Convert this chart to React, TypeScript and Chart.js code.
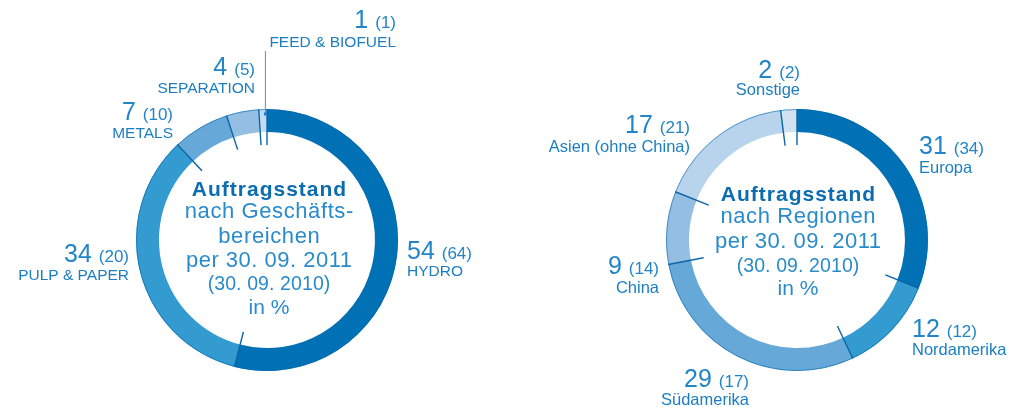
import React, { useEffect, useRef } from 'react';
import { Chart, registerables } from 'chart.js';

Chart.register(...registerables);

const W = 1010;
const H = 407;

// ---------- data ----------
const businessCategories = ['HYDRO', 'PULP & PAPER', 'METALS', 'SEPARATION', 'FEED & BIOFUEL'];
const businessValues2011 = [54, 34, 7, 4, 1];
const businessValues2010 = [64, 20, 10, 5, 1];
const businessCenterLines = ['Auftragsstand', 'nach Geschäfts-', 'bereichen', 'per 30. 09. 2011', '(30. 09. 2010)', 'in %'];

const regionCategories = ['Europa', 'Nordamerika', 'Südamerika', 'China', 'Asien (ohne China)', 'Sonstige'];
const regionValues2011 = [31, 12, 29, 9, 17, 2];
const regionValues2010 = [34, 12, 17, 14, 21, 2];
const regionCenterLines = ['Auftragsstand', 'nach Regionen', 'per 30. 09. 2011', '(30. 09. 2010)', 'in %'];

// ---------- styles / layout ----------
const businessColors = ['#0071b5', '#349bd0', '#66a8d7', '#95bfe2', '#c5dbf0'];
const regionColors = ['#0071b5', '#349bd0', '#66a8d7', '#95bfe2', '#b8d4ec', '#d0e2f2'];

const FONT = '"Liberation Sans", Arial, Helvetica, sans-serif';
const NUM_COLOR = '#2384c8';
const LABEL_COLOR = '#1b7ec3';
const CENTER_BOLD = '#0b6cb1';
const CENTER_COLOR = '#2a8bcb';
const EDGE_COLOR = '#0b66a8';

type LabelPos = { x: number; nb: number; lb: number; align: 'left' | 'right' };

const businessLabelPos: LabelPos[] = [
  { x: 407, nb: 259, lb: 276, align: 'left' },
  { x: 129, nb: 262, lb: 280, align: 'right' },
  { x: 173, nb: 120, lb: 138, align: 'right' },
  { x: 255, nb: 75, lb: 93, align: 'right' },
  { x: 396, nb: 28, lb: 47, align: 'right' },
];
const regionLabelPos: LabelPos[] = [
  { x: 919, nb: 154, lb: 173, align: 'left' },
  { x: 912, nb: 337, lb: 355, align: 'left' },
  { x: 749, nb: 387, lb: 405, align: 'right' },
  { x: 659, nb: 274, lb: 293, align: 'right' },
  { x: 690, nb: 133, lb: 152, align: 'right' },
  { x: 800, nb: 78, lb: 95, align: 'right' },
];

type CenterLine = { dy: number; size: number; bold?: boolean; spacing: number };
const businessCenterStyle: CenterLine[] = [
  { dy: -44, size: 21, bold: true, spacing: 1 },
  { dy: -22, size: 22, spacing: 0.6 },
  { dy: 3, size: 22, spacing: 0.6 },
  { dy: 27, size: 22, spacing: 0.5 },
  { dy: 50, size: 19.5, spacing: 0.1 },
  { dy: 74, size: 21, spacing: 0 },
];
const regionCenterStyle: CenterLine[] = [
  { dy: -39, size: 21, bold: true, spacing: 1 },
  { dy: -17, size: 22, spacing: 0.6 },
  { dy: 8, size: 22, spacing: 0.5 },
  { dy: 32, size: 19.5, spacing: 0.1 },
  { dy: 55, size: 21, spacing: 0 },
];

type Cfg = {
  categories: string[];
  values: number[];
  prev: number[];
  colors: string[];
  centerLines: string[];
  centerStyle: CenterLine[];
  centerDx: number;
  labelPos: LabelPos[];
  labelSize: number;
  leaderIndex: number | null;
  leaderTop: number;
  padding: { left: number; right: number; top: number; bottom: number };
};

const cfgs: Cfg[] = [
  {
    categories: businessCategories,
    values: businessValues2011,
    prev: businessValues2010,
    colors: businessColors,
    centerLines: businessCenterLines,
    centerStyle: businessCenterStyle,
    centerDx: 2,
    labelPos: businessLabelPos,
    labelSize: 15.5,
    leaderIndex: 4,
    leaderTop: 51,
    padding: { left: 136, right: W - 398, top: 109, bottom: H - 371 },
  },
  {
    categories: regionCategories,
    values: regionValues2011,
    prev: regionValues2010,
    colors: regionColors,
    centerLines: regionCenterLines,
    centerStyle: regionCenterStyle,
    centerDx: 1,
    labelPos: regionLabelPos,
    labelSize: 16.5,
    leaderIndex: null,
    leaderTop: 0,
    padding: { left: 666, right: W - 928, top: 109, bottom: H - 371 },
  },
];

function makeDecor(cfg: Cfg) {
  return {
    id: 'decor',
    afterDatasetsDraw(chart: any) {
      const ctx: any = chart.ctx;
      const arcs: any[] = chart.getDatasetMeta(0).data;
      if (!arcs.length) return;
      const cx = arcs[0].x;
      const cy = arcs[0].y;
      const outer = arcs[0].outerRadius;
      const inner = arcs[0].innerRadius;
      ctx.save();

      // thin outer edge
      ctx.strokeStyle = 'rgba(0,100,170,0.55)';
      ctx.lineWidth = 1;
      ctx.beginPath();
      ctx.arc(cx, cy, outer - 0.5, 0, Math.PI * 2);
      ctx.stroke();

      // segment boundary ticks
      ctx.strokeStyle = EDGE_COLOR;
      ctx.lineWidth = 1.4;
      arcs.forEach((arc) => {
        const a = arc.startAngle;
        const r1 = inner - 13;
        const r2 = outer;
        ctx.beginPath();
        ctx.moveTo(cx + r1 * Math.cos(a), cy + r1 * Math.sin(a));
        ctx.lineTo(cx + r2 * Math.cos(a), cy + r2 * Math.sin(a));
        ctx.stroke();
      });

      // leader line for tiny segment
      if (cfg.leaderIndex != null) {
        const arc = arcs[cfg.leaderIndex];
        const a = arc.startAngle + 0.8 * (arc.endAngle - arc.startAngle);
        const r = outer - 5;
        const px = cx + r * Math.cos(a);
        const py = cy + r * Math.sin(a);
        ctx.strokeStyle = '#3a9ad8';
        ctx.lineWidth = 1;
        ctx.beginPath();
        ctx.moveTo(px, cfg.leaderTop);
        ctx.lineTo(px, py);
        ctx.stroke();
        ctx.fillStyle = '#1f7fc4';
        ctx.fillRect(px - 1.5, py - 1.5, 3, 3);
      }

      // center text
      ctx.textAlign = 'center';
      ctx.textBaseline = 'alphabetic';
      cfg.centerLines.forEach((t, i) => {
        const s = cfg.centerStyle[i];
        ctx.font = `${s.bold ? 'bold ' : ''}${s.size}px ${FONT}`;
        ctx.letterSpacing = `${s.spacing}px`;
        ctx.fillStyle = s.bold ? CENTER_BOLD : CENTER_COLOR;
        ctx.fillText(t, cx + cfg.centerDx + s.spacing / 2, cy + s.dy);
      });
      ctx.letterSpacing = '0px';

      // outside labels
      cfg.categories.forEach((cat, i) => {
        const p = cfg.labelPos[i];
        const numText = `${cfg.values[i]} `;
        const prevText = `(${cfg.prev[i]})`;
        ctx.font = `25px ${FONT}`;
        const nw = ctx.measureText(numText).width;
        ctx.font = `17px ${FONT}`;
        const pw = ctx.measureText(prevText).width;
        const startX = p.align === 'left' ? p.x : p.x - nw - pw;
        ctx.textAlign = 'left';
        ctx.fillStyle = NUM_COLOR;
        ctx.font = `25px ${FONT}`;
        ctx.fillText(numText, startX, p.nb);
        ctx.font = `17px ${FONT}`;
        ctx.fillText(prevText, startX + nw, p.nb);
        ctx.font = `${cfg.labelSize}px ${FONT}`;
        ctx.fillStyle = LABEL_COLOR;
        ctx.textAlign = p.align;
        ctx.fillText(cat, p.x, p.lb);
      });

      ctx.restore();
    },
  };
}

function DonutCanvas({ cfg }: { cfg: Cfg }) {
  const ref = useRef<HTMLCanvasElement | null>(null);
  useEffect(() => {
    if (!ref.current) return;
    const chart = new Chart(ref.current, {
      type: 'doughnut',
      data: {
        labels: cfg.categories,
        datasets: [
          {
            data: cfg.values,
            backgroundColor: cfg.colors,
            borderWidth: 0,
          },
        ],
      },
      options: {
        responsive: false,
        animation: false,
        radius: 131,
        cutout: 108,
        layout: { padding: cfg.padding },
        plugins: { legend: { display: false }, tooltip: { enabled: false } },
        events: [],
      } as any,
      plugins: [makeDecor(cfg)],
    });
    return () => chart.destroy();
  }, [cfg]);
  return (
    <canvas
      ref={ref}
      width={W}
      height={H}
      style={{ position: 'absolute', left: 0, top: 0, width: W, height: H }}
    />
  );
}

export default function App() {
  return (
    <div style={{ position: 'absolute', left: 0, top: 0, width: W, height: H, background: '#ffffff' }}>
      {cfgs.map((c, i) => (
        <DonutCanvas key={i} cfg={c} />
      ))}
    </div>
  );
}
